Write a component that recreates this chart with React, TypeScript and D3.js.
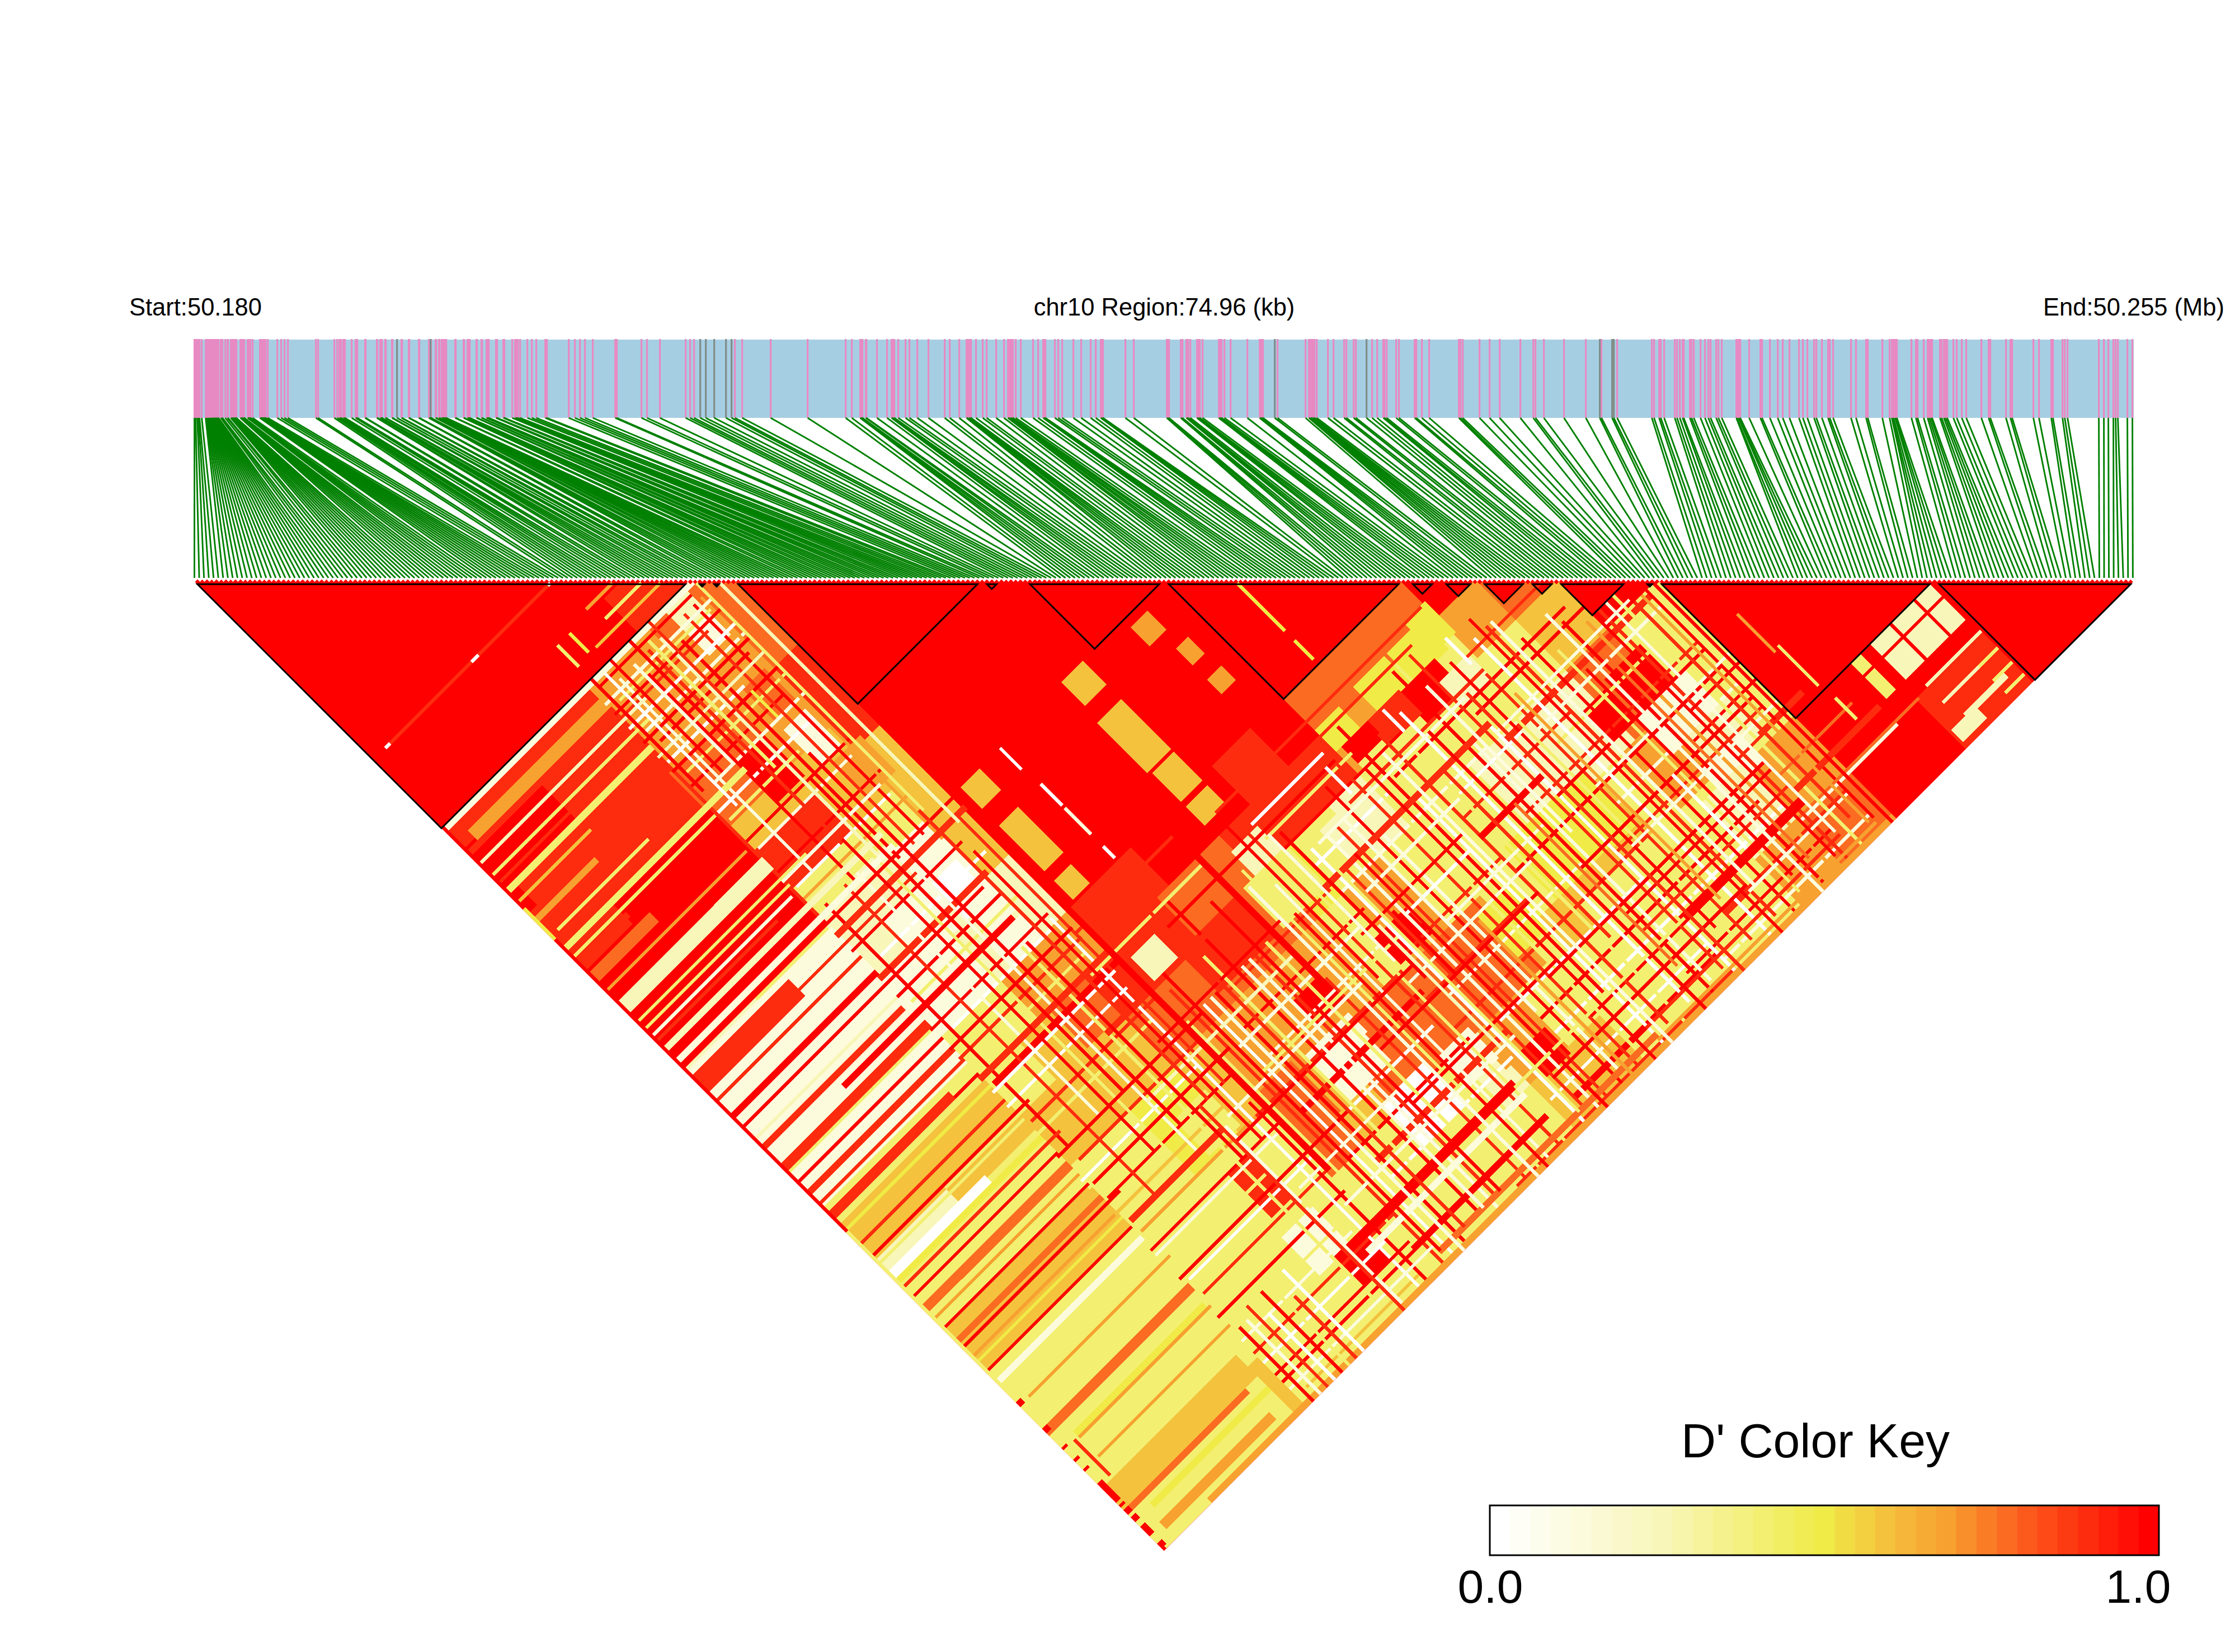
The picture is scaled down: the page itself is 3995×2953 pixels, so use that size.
import React from 'react';
import * as d3 from 'd3';

// positions of the SNPs along the coloured track (0 = region start)
const trackSpan = 3467;
const snpPos = [
  0, 2, 5, 7, 9, 13, 20, 21, 22, 23, 24, 25, 26, 27, 28, 29, 30, 31, 32, 33, 34, 35, 36, 37, 38, 39, 40, 41, 42, 43,
  47, 49, 50, 55, 59, 60, 65, 66, 67, 68, 69, 70, 71, 72, 73, 74, 75, 82, 83, 84, 85, 86, 87, 88, 89, 95, 96, 97, 98, 100,
  104, 117, 118, 119, 120, 121, 122, 123, 124, 125, 126, 127, 131, 148, 155, 161, 167, 217, 221, 250, 255, 259, 261, 262,
  266, 268, 269, 281, 288, 290, 291, 305, 306, 326, 327, 332, 333, 334, 335, 341, 342, 353, 354, 362, 370, 371, 383, 384,
  401, 402, 419, 420, 422, 423, 431, 432, 437, 438, 442, 443, 444, 445, 446, 447, 449, 450, 466, 467, 481, 482, 488, 489,
  491, 492, 504, 505, 513, 514, 522, 523, 525, 526, 539, 540, 541, 552, 553, 554, 568, 573, 574, 576, 578, 582, 595, 603,
  611, 627, 630, 669, 680, 689, 698, 712, 752, 755, 799, 809, 832, 878, 886, 893, 904, 914, 929, 950, 960, 966, 979, 1030,
  1096, 1164, 1175, 1190, 1191, 1193, 1194, 1200, 1201, 1220, 1238, 1246, 1247, 1250, 1251, 1258, 1271, 1278, 1292, 1312,
  1341, 1350, 1367, 1380, 1381, 1384, 1385, 1387, 1388, 1397, 1409, 1416, 1433, 1447, 1454, 1455, 1458, 1459, 1462, 1463,
  1468, 1477, 1499, 1508, 1517, 1518, 1520, 1521, 1538, 1544, 1551, 1571, 1585, 1602, 1611, 1620, 1621, 1623, 1624, 1664,
  1679, 1738, 1739, 1741, 1742, 1763, 1764, 1766, 1773, 1774, 1776, 1780, 1792, 1793, 1795, 1797, 1802, 1831, 1832, 1834,
  1836, 1841, 1852, 1882, 1904, 1905, 1907, 1908, 1910, 1931, 1936, 1986, 1992, 1993, 1995, 1996, 1998, 2000, 2002, 2006,
  2026, 2036, 2055, 2059, 2072, 2076, 2095, 2105, 2114, 2125, 2127, 2131, 2148, 2153, 2181, 2184, 2194, 2207, 2260, 2263,
  2267, 2297, 2315, 2333, 2370, 2393, 2397, 2412, 2448, 2487, 2512, 2515, 2534, 2537, 2543, 2605, 2609, 2618, 2621, 2627,
  2646, 2650, 2655, 2660, 2662, 2673, 2676, 2680, 2692, 2700, 2706, 2710, 2720, 2724, 2730, 2756, 2757, 2760, 2761, 2763,
  2779, 2799, 2802, 2816, 2830, 2839, 2851, 2868, 2875, 2883, 2895, 2899, 2909, 2920, 2923, 2929, 2961, 2970, 2988, 2991,
  3017, 3030, 3034, 3035, 3037, 3040, 3041, 3043, 3069, 3077, 3080, 3091, 3098, 3101, 3104, 3106, 3120, 3123, 3127, 3130,
  3133, 3144, 3150, 3159, 3167, 3194, 3207, 3210, 3238, 3246, 3249, 3287, 3297, 3319, 3322, 3339, 3343, 3348, 3404, 3413,
  3421, 3430, 3434, 3438, 3455, 3464,
];
const greyPos = [362, 422, 904, 914, 929, 950, 960, 1931, 2095, 2512, 2534, 2537];

// LD blocks as first and last SNP
const ldBlocks = [
  [0, 103], [105, 107], [108, 110], [113, 164], [165, 168], [174, 202], [203, 252], [254, 259],
  [261, 267], [269, 278], [279, 284], [285, 299], [303, 305], [306, 363], [364, 405],
];

// D', written as one digit per cell
const codeValues = [0, 0.13, 0.25, 0.42, 0.5, 0.6, 0.69, 0.78, 0.9, 1];
const zoneEdges = [0, 30, 60, 85, 103, 113, 140, 164, 174, 190, 203, 228, 252, 268, 285, 306, 335, 363, 385, 406];
const zoneRows = [
  '9999898999212525353',
  '999887898313355335',
  '99667583213353333',
  '9766553126754333',
  '778855526875333',
  '99999998876533',
  '9999999876733',
  '999999843723',
  '99998836765',
  '9999823635',
  '997633333',
  '97332553',
  '9632333',
  '757326',
  '93367',
  '9999',
  '998',
  '99',
  '9',
];

// [iFrom, iTo, jFrom, jTo, code]
const patches = [
  [4, 58, 130, 153, 8], [20, 60, 155, 176, 9], [0, 60, 182, 204, 9], [0, 60, 206, 262, 1], [0, 60, 263, 269, 3],
  [0, 60, 270, 282, 5], [0, 60, 291, 312, 3], [0, 60, 315, 330, 5], [0, 60, 332, 379, 3], [0, 55, 380, 388, 5],
  [0, 55, 389, 405, 3], [82, 100, 90, 103, 8],
  [92, 100, 106, 114, 2], [92, 100, 115, 123, 1], [92, 100, 138, 150, 7], [76, 86, 152, 168, 9], [92, 100, 155, 170, 1],
  [96, 106, 172, 186, 6], [76, 88, 200, 215, 2], [90, 100, 203, 212, 1], [72, 86, 216, 232, 1], [90, 100, 218, 232, 0],
  [93, 103, 228, 240, 1], [90, 103, 243, 252, 1], [76, 88, 270, 285, 5], [92, 104, 318, 332, 3], [92, 100, 340, 358, 8],
  [90, 102, 365, 380, 1], [96, 108, 380, 392, 9],
  [117, 124, 204, 212, 5], [117, 124, 220, 228, 5], [117, 124, 229, 238, 5], [117, 123, 243, 250, 5],
  [160, 168, 203, 212, 5], [159, 168, 219, 230, 5], [159, 168, 229, 239, 5], [160, 168, 241, 252, 5], [160, 168, 255, 262, 5],
  [186, 192, 206, 213, 6], [191, 195, 220, 226, 6], [191, 196, 233, 238, 6],
  [135, 160, 268, 292, 7], [128, 150, 284, 300, 8], [117, 126, 275, 285, 2], [160, 170, 274, 284, 2], [155, 172, 284, 300, 3],
  [183, 195, 288, 300, 2], [205, 218, 281, 292, 3], [203, 212, 266, 274, 4], [234, 247, 265, 276, 4], [220, 232, 265, 276, 4],
  [244, 252, 262, 274, 4], [228, 242, 276, 288, 9], [216, 228, 275, 284, 8], [205, 215, 275, 281, 9], [238, 250, 282, 292, 2],
  [141, 152, 318, 328, 9], [133, 150, 332, 350, 1], [113, 128, 330, 350, 7], [113, 126, 348, 362, 7], [150, 168, 340, 360, 7],
  [138, 155, 358, 375, 0], [165, 200, 335, 362, 7], [172, 184, 322, 332, 9], [172, 186, 365, 376, 6], [160, 172, 360, 372, 1],
  [178, 188, 376, 386, 9],
  [218, 250, 330, 352, 4], [198, 212, 338, 355, 4], [210, 240, 352, 365, 5], [222, 262, 358, 388, 3], [262, 285, 335, 358, 6],
  [272, 292, 330, 345, 1], [278, 296, 345, 360, 2], [275, 290, 355, 365, 1], [268, 285, 362, 378, 2],
  [274, 288, 316, 330, 9], [262, 272, 318, 330, 9],
  [337, 344, 364, 368, 2], [346, 354, 364, 368, 2], [356, 361, 364, 368, 2], [337, 344, 370, 378, 2], [346, 354, 370, 378, 2],
  [356, 361, 370, 378, 2], [329, 332, 370, 378, 3], [329, 332, 364, 368, 3], [336, 345, 399, 403, 2],
];

// [j, thickness, iFrom, iTo, code]: thinner weave seen across the lower half, painted first
const weaveJ = [
  [107, 1, 62, 100, 9], [114, 1, 64, 102, 3], [118, 1, 60, 96, 8], [126, 1, 62, 103, 1], [131, 1, 64, 100, 9], [137, 1, 60, 92, 0],
  [143, 1, 62, 103, 3], [147, 1, 60, 98, 9], [151, 1, 66, 103, 1], [158, 1, 60, 100, 0], [162, 1, 62, 90, 3], [170, 1, 60, 104, 9],
  [174, 1, 62, 100, 1], [183, 1, 60, 103, 9], [190, 1, 62, 100, 0], [194, 1, 60, 104, 6], [199, 1, 62, 100, 3],
  [114, 2, 0, 60, 8], [127, 1, 0, 50, 8], [135, 1, 0, 30, 5], [142, 2, 0, 25, 6], [149, 1, 3, 40, 3], [158, 1, 0, 60, 3],
  [160, 2, 0, 20, 8], [172, 1, 0, 58, 6], [191, 1, 0, 58, 1], [193, 1, 0, 50, 8],
  [212, 1, 40, 90, 8], [218, 1, 0, 60, 8], [224, 2, 0, 60, 9], [234, 1, 0, 60, 2], [237, 2, 0, 58, 8], [248, 1, 0, 60, 3],
  [256, 2, 0, 60, 8], [259, 1, 0, 60, 1], [267, 1, 0, 60, 9], [272, 1, 0, 60, 4], [278, 1, 0, 60, 8], [286, 1, 0, 60, 3],
  [293, 2, 0, 60, 4], [300, 1, 0, 60, 9], [309, 1, 0, 60, 6], [313, 1, 0, 60, 9], [318, 2, 0, 60, 7], [325, 1, 0, 60, 6], [327, 1, 0, 60, 4],
  [215, 1, 60, 105, 9], [222, 1, 64, 108, 0], [226, 2, 60, 104, 8], [234, 1, 60, 102, 9], [238, 1, 62, 106, 3], [248, 1, 60, 108, 9],
  [252, 1, 64, 106, 0], [260, 1, 60, 110, 8], [264, 1, 62, 108, 3], [272, 2, 62, 112, 9], [280, 1, 60, 110, 0], [288, 1, 62, 112, 8],
  [292, 1, 60, 108, 3], [306, 1, 64, 115, 8], [311, 1, 60, 108, 0], [320, 1, 62, 112, 9], [325, 1, 60, 115, 5],
  [334, 1, 62, 112, 6], [340, 1, 60, 115, 9], [348, 1, 60, 112, 3], [354, 1, 62, 112, 0], [360, 1, 62, 114, 8], [368, 1, 60, 112, 9],
  [374, 1, 60, 110, 3], [383, 1, 60, 118, 8], [387, 1, 60, 110, 0], [395, 1, 60, 115, 9], [401, 1, 64, 110, 5],
  [262, 1, 165, 203, 8], [268, 1, 175, 240, 8], [272, 1, 170, 200, 0], [278, 1, 170, 205, 3], [284, 1, 172, 220, 9], [288, 1, 195, 250, 8],
  [292, 1, 210, 280, 9], [294, 1, 175, 205, 0], [302, 1, 130, 172, 8], [305, 1, 175, 235, 1], [307, 2, 240, 300, 8], [313, 1, 125, 175, 9],
  [315, 1, 215, 260, 8], [319, 1, 250, 300, 3], [324, 1, 125, 170, 1], [327, 1, 230, 300, 8], [331, 1, 175, 215, 8], [334, 2, 110, 170, 8],
  [337, 1, 215, 300, 9], [342, 2, 120, 170, 9], [344, 1, 250, 300, 1], [347, 1, 280, 305, 9], [349, 1, 175, 230, 1], [352, 1, 130, 165, 0],
  [354, 1, 240, 300, 8], [357, 1, 170, 250, 8], [359, 2, 295, 312, 8], [362, 1, 120, 170, 9], [365, 1, 180, 240, 0], [368, 2, 125, 180, 8],
  [373, 1, 190, 280, 9], [375, 1, 125, 175, 0], [379, 1, 190, 285, 0], [383, 1, 200, 290, 9], [386, 1, 285, 325, 1], [389, 2, 250, 300, 8],
  [392, 1, 175, 240, 0], [394, 1, 230, 290, 9], [396, 2, 180, 240, 9], [399, 1, 240, 300, 1], [401, 1, 125, 200, 3], [403, 1, 150, 240, 8],
];

// [i, thickness, jFrom, jTo, code]: same weave in the other direction
const weaveI = [
  [60, 1, 110, 200, 8], [64, 1, 200, 300, 9], [68, 1, 110, 190, 1], [72, 1, 200, 330, 8], [75, 1, 115, 200, 9], [77, 1, 200, 300, 1],
  [80, 1, 110, 190, 8], [84, 1, 200, 320, 3], [85, 1, 110, 200, 2], [89, 1, 115, 205, 9], [90, 1, 205, 330, 1], [95, 1, 110, 205, 8],
  [96, 1, 250, 400, 3], [99, 1, 110, 205, 9], [102, 1, 110, 210, 6], [101, 1, 330, 405, 1],
  [108, 1, 250, 405, 0], [110, 1, 210, 320, 8], [111, 1, 330, 405, 9], [115, 1, 300, 400, 3], [118, 1, 290, 405, 8], [122, 1, 300, 405, 0],
  [127, 1, 300, 405, 9], [132, 1, 290, 405, 3], [136, 1, 270, 400, 9], [141, 1, 300, 405, 1], [143, 1, 290, 400, 8], [148, 1, 300, 405, 3],
  [153, 1, 320, 405, 8], [158, 1, 280, 405, 3], [162, 1, 290, 405, 1], [167, 1, 270, 405, 8], [169, 1, 300, 405, 3], [177, 1, 290, 405, 0],
  [180, 1, 300, 400, 8], [183, 1, 290, 405, 1], [187, 1, 290, 405, 8], [193, 1, 280, 405, 9], [195, 1, 300, 400, 1], [200, 1, 270, 405, 8],
  [203, 1, 290, 400, 3], [208, 1, 270, 380, 9], [210, 1, 300, 405, 0], [215, 1, 280, 400, 8], [219, 1, 290, 405, 3], [224, 1, 280, 400, 0],
  [231, 1, 270, 405, 9], [233, 1, 300, 400, 1], [238, 1, 270, 400, 8], [240, 1, 300, 405, 0], [245, 1, 280, 390, 9], [247, 1, 300, 405, 3],
  [250, 1, 290, 400, 8], [255, 1, 280, 405, 0], [260, 1, 280, 400, 8], [265, 1, 290, 405, 9], [270, 1, 300, 400, 3], [277, 1, 295, 405, 9],
  [282, 1, 300, 405, 6], [287, 1, 300, 405, 8], [293, 1, 300, 405, 3], [301, 1, 306, 400, 9],
];

// stronger stripes measured on the crops, painted on top of the weave
const jStripes = [
  [75, 1, 5, 73, 8], [75, 1, 5, 6, 0], [75, 1, 41, 43, 0], [75, 1, 73, 73, 0], [88, 1, 76, 92, 6], [94, 1, 78, 92, 3], [98, 1, 70, 96, 5],
  [104, 2, 0, 103, 1], [110, 4, 5, 65, 6], [112, 1, 60, 103, 1], [116, 1, 60, 103, 9], [119, 1, 0, 70, 2], [122, 1, 60, 103, 0],
  [124, 1, 0, 65, 3], [128, 1, 60, 103, 9], [130, 2, 0, 60, 3], [134, 1, 60, 103, 2], [140, 1, 60, 103, 9],
  [154, 2, 0, 75, 3], [165, 4, 0, 25, 7], [177, 5, 0, 60, 2], [185, 1, 0, 70, 3], [186, 1, 60, 100, 1], [188, 1, 0, 60, 3],
  [196, 2, 0, 90, 2], [201, 2, 0, 90, 1], [204, 1, 60, 113, 9], [208, 7, 0, 40, 8], [208, 2, 60, 113, 8],
  [229, 1, 0, 100, 9], [241, 2, 30, 100, 9], [245, 3, 0, 60, 8], [252, 1, 0, 60, 9], [256, 1, 60, 110, 9], [258, 1, 110, 150, 8],
  [261, 1, 0, 60, 8], [262, 1, 204, 250, 8], [265, 3, 0, 50, 8], [268, 2, 60, 112, 8], [270, 1, 105, 150, 3], [274, 1, 60, 110, 0],
  [276, 1, 130, 200, 9], [282, 1, 250, 285, 8], [283, 1, 0, 65, 9], [285, 2, 96, 145, 8], [290, 3, 0, 40, 0], [290, 1, 180, 240, 1],
  [296, 1, 0, 65, 8], [296, 1, 240, 285, 9], [298, 1, 105, 155, 9], [300, 2, 172, 240, 8], [301, 1, 60, 120, 9], [304, 3, 0, 60, 7],
  [304, 1, 240, 295, 1], [308, 1, 90, 150, 2], [310, 1, 180, 218, 1], [309, 1, 220, 245, 0], [312, 1, 250, 300, 1], [314, 1, 62, 118, 9],
  [316, 1, 120, 170, 1], [318, 1, 170, 212, 9], [321, 1, 0, 65, 9], [322, 2, 215, 240, 9], [323, 1, 184, 210, 0], [326, 1, 121, 176, 3],
  [328, 1, 104, 160, 1], [329, 2, 62, 100, 8], [330, 1, 240, 300, 9], [331, 1, 0, 60, 9], [333, 1, 190, 230, 1], [335, 2, 0, 60, 1],
  [335, 1, 100, 175, 9], [336, 1, 250, 305, 1], [338, 1, 170, 220, 1], [340, 1, 285, 305, 9], [342, 1, 60, 110, 1], [345, 1, 4, 62, 6],
  [345, 2, 170, 212, 8], [346, 1, 150, 215, 9], [350, 1, 230, 300, 9], [352, 1, 60, 130, 9], [355, 3, 0, 60, 7], [356, 1, 245, 305, 1],
  [358, 1, 104, 145, 1], [360, 1, 285, 305, 8], [362, 3, 6, 60, 4], [362, 2, 60, 104, 3], [364, 1, 6, 60, 6], [364, 1, 145, 205, 9],
  [366, 1, 200, 290, 9], [369, 1, 229, 290, 9], [371, 1, 110, 180, 1], [372, 1, 6, 60, 6], [372, 1, 290, 320, 7], [376, 1, 229, 290, 8],
  [378, 1, 60, 105, 1], [378, 2, 290, 325, 8], [380, 3, 105, 170, 9], [381, 3, 240, 290, 9], [382, 1, 170, 240, 3], [384, 1, 340, 356, 2],
  [384, 1, 355, 362, 2], [385, 1, 300, 335, 7], [385, 2, 105, 170, 1], [388, 1, 180, 260, 9], [389, 2, 0, 50, 7], [390, 1, 260, 300, 1],
  [391, 1, 340, 358, 2], [391, 1, 355, 362, 3], [392, 1, 60, 115, 9], [393, 2, 7, 55, 4], [394, 2, 115, 170, 9], [397, 1, 210, 290, 8],
  [398, 2, 342, 358, 2], [397, 1, 355, 362, 3], [398, 1, 60, 120, 1], [399, 3, 5, 50, 6], [400, 2, 120, 210, 7], [402, 1, 210, 300, 6],
  [402, 1, 355, 362, 3], [404, 2, 20, 305, 6],
];

const iStripes = [
  [0, 1, 104, 137, 9], [0, 1, 138, 150, 4], [0, 1, 151, 272, 9], [0, 1, 273, 343, 3],
  [0, 2, 344, 345, 9], [0, 2, 355, 356, 9], [0, 2, 363, 363, 9], [0, 2, 368, 368, 9], [0, 2, 372, 372, 9], [0, 2, 378, 385, 9],
  [0, 2, 387, 387, 9], [0, 2, 389, 390, 9], [0, 2, 392, 393, 9], [0, 2, 396, 399, 9], [0, 2, 403, 404, 9], [0, 1, 405, 405, 9],
  [4, 1, 364, 378, 8],
  [62, 1, 90, 98, 3], [67, 1, 90, 97, 4], [62, 1, 104, 150, 9], [66, 1, 106, 160, 0], [70, 1, 104, 150, 9], [74, 1, 110, 150, 1],
  [78, 1, 104, 160, 9], [82, 1, 108, 160, 3], [86, 1, 104, 150, 8], [93, 1, 140, 150, 4], [104, 1, 106, 200, 3], [109, 1, 111, 210, 2],
  [87, 1, 170, 300, 9], [81, 1, 190, 320, 9], [92, 1, 165, 320, 9], [98, 1, 250, 340, 9], [100, 1, 320, 405, 8], [103, 1, 200, 320, 8],
  [106, 1, 220, 340, 9], [113, 2, 250, 360, 9], [120, 1, 285, 400, 9], [125, 1, 300, 405, 1], [130, 1, 260, 400, 8],
  [133, 1, 204, 212, 0], [134, 1, 220, 228, 0], [134, 1, 230, 240, 1], [134, 1, 246, 250, 0], [138, 1, 300, 400, 1], [145, 1, 280, 400, 9],
  [151, 2, 260, 320, 9], [156, 1, 285, 405, 1], [160, 1, 300, 405, 9], [164, 1, 265, 330, 9], [171, 1, 278, 330, 1], [174, 1, 280, 340, 9],
  [175, 1, 320, 370, 2], [178, 1, 300, 400, 3], [181, 1, 320, 345, 9], [185, 1, 300, 405, 9], [190, 1, 290, 370, 1], [197, 1, 276, 286, 0],
  [197, 1, 340, 405, 6], [205, 1, 285, 405, 9], [212, 1, 285, 405, 1], [217, 1, 219, 228, 4], [217, 1, 229, 238, 4], [217, 1, 243, 250, 4],
  [221, 1, 276, 284, 0], [221, 1, 300, 370, 8], [226, 1, 290, 405, 9], [229, 1, 323, 390, 7], [235, 1, 280, 340, 1], [242, 1, 290, 405, 8],
  [249, 1, 274, 284, 0], [252, 1, 300, 385, 6], [258, 1, 275, 405, 9], [262, 1, 280, 390, 1], [268, 1, 350, 380, 0], [272, 1, 310, 395, 9],
  [275, 1, 290, 405, 1], [279, 1, 310, 395, 7], [285, 1, 300, 400, 9], [290, 1, 300, 395, 1], [296, 1, 306, 395, 8], [299, 1, 306, 400, 6],
  [304, 1, 306, 405, 9], [315, 1, 330, 345, 6], [317, 1, 345, 355, 3], [317, 1, 355, 361, 3], [318, 1, 368, 376, 3],
  [62, 1, 375, 405, 9], [65, 1, 375, 405, 1], [68, 1, 372, 405, 8], [71, 1, 378, 405, 0], [74, 1, 372, 405, 9], [77, 1, 372, 405, 3],
  [80, 1, 380, 405, 8], [83, 1, 372, 405, 0],
];

const keySteps = d3.range(33).map(d => d / 32);
const rampStops = [0, 0.25, 0.5, 0.6, 0.69, 0.81, 1];
const rampColors = ['#ffffff', '#f8f6b9', '#f0eb46', '#f4bf3c', '#f7a030', '#fc5a1c', '#ff0000'];

const ramp = d3.scaleLinear<string>().domain(rampStops).range(rampColors).interpolate(d3.interpolateRgb);
const fillFor = (v: number) => ramp(Math.round(v * 32) / 32);

const pitch = 8.554;
const heatLeft = 348.5;
const heatTop = 1040;
const lastSnp = 405;

const trackX = d3.scaleLinear().domain([0, trackSpan]).range([346, 346 + trackSpan]);
const snpX = d3.scaleLinear().domain([0, lastSnp]).range([heatLeft, heatLeft + lastSnp * pitch]);
const lagY = d3.scaleLinear().domain([1, lastSnp]).range([heatTop, heatTop + ((lastSnp - 1) / 2) * pitch]);
const keyX = d3.scaleBand<number>().domain(keySteps).range([2663, 3859]);

// one patch of the i/j grid as a diamond-shaped path
function cellPath(i0: number, i1: number, j0: number, j1: number) {
  const p = d3.path();
  const pt = (a: number, b: number): [number, number] => [snpX((a + b) / 2), lagY(b - a)];
  const corners = [pt(i0 - 0.5, j0 - 0.5), pt(i1 + 0.5, j0 - 0.5), pt(i1 + 0.5, j1 + 0.5), pt(i0 - 0.5, j1 + 0.5)];
  p.moveTo(...corners[0]);
  corners.slice(1).forEach(c => p.lineTo(...c));
  p.closePath();
  return p.toString();
}

function blockPath(first: number, last: number) {
  const p = d3.path();
  p.moveTo(snpX(first + 0.5), lagY(2));
  p.lineTo(snpX(last - 0.5), lagY(2));
  p.lineTo(snpX((first + last) / 2), lagY(last - first + 1));
  p.closePath();
  return p.toString();
}

export default function App() {
  const layers: { d: string; code: number }[] = [];
  zoneRows.forEach((row, r) => {
    row.split('').forEach((ch, k) => {
      const c = r + k;
      layers.push({ d: cellPath(zoneEdges[r], zoneEdges[r + 1] - 1, zoneEdges[c], zoneEdges[c + 1] - 1), code: +ch });
    });
  });
  // inside an LD block everything is strong, only single stripes break it
  ldBlocks.forEach(([a, b]) => layers.push({ d: cellPath(a, b, a, b), code: 9 }));
  patches.forEach(([a, b, c, e, code]) => layers.push({ d: cellPath(a, b, c, e), code }));
  weaveJ.forEach(([j, w, a, b, code]) => layers.push({ d: cellPath(a, b, j, j + w - 1), code }));
  weaveI.forEach(([i, w, c, e, code]) => layers.push({ d: cellPath(i, i + w - 1, c, e), code }));
  jStripes.forEach(([j, w, a, b, code]) => layers.push({ d: cellPath(a, b, j, j + w - 1), code }));
  iStripes.forEach(([i, w, c, e, code]) => layers.push({ d: cellPath(i, i + w - 1, c, e), code }));

  const links = d3.line();
  const font = 'Liberation Sans, Arial, sans-serif';
  const triangle = [
    [snpX(0), lagY(1)],
    [snpX(lastSnp), lagY(1)],
    [snpX(lastSnp / 2), lagY(lastSnp) + pitch / 2],
  ];

  return (
    <svg width={3995} height={2953} style={{ position: 'absolute', left: 0, top: 0, background: '#fff' }} fontFamily={font}>
      <defs>
        <clipPath id="heat-clip">
          <polygon points={triangle.map(p => p.join(',')).join(' ')} />
        </clipPath>
      </defs>

      <text x={231} y={564} fontSize={43.5}>Start:50.180</text>
      <text x={2081} y={564} fontSize={43.5} textAnchor="middle">chr10 Region:74.96 (kb)</text>
      <text x={3652} y={564} fontSize={43.5}>End:50.255 (Mb)</text>

      <rect x={trackX(0)} y={607} width={trackSpan + 1} height={140} fill="#a6cee3" />
      {snpPos.map((d, i) => (
        <rect key={i} x={trackX(d)} y={606} width={3.2} height={141} fill="#e78ac3" />
      ))}
      {greyPos.map((d, i) => (
        <rect key={i} x={trackX(d)} y={606} width={3.2} height={141} fill="#7f8f8a" />
      ))}

      <g stroke="#008000" strokeWidth={2.9} fill="none">
        {snpPos.map((d, i) => (
          <path key={i} d={links([[trackX(d) + 1.6, 747], [snpX(i) - 1 + (i / lastSnp) * 0.5, 1033]]) as string} />
        ))}
      </g>

      <polygon points={triangle.map(p => p.join(',')).join(' ')} fill="#ff0000" />
      <g clipPath="url(#heat-clip)" shapeRendering="crispEdges">
        {layers.map((l, i) => (
          <path key={i} d={l.d} fill={fillFor(codeValues[l.code])} />
        ))}
      </g>
      <g fill="#ff0000" shapeRendering="crispEdges">
        {d3.range(lastSnp).map(i => (
          <path key={i} d={cellPath(i, i, i + 1, i + 1)} />
        ))}
      </g>
      <g fill="none" stroke="#000" strokeWidth={3}>
        {ldBlocks.map(([a, b], i) => (
          <path key={i} d={blockPath(a, b)} />
        ))}
      </g>

      <text x={3245} y={2605} fontSize={86} textAnchor="middle">D' Color Key</text>
      {keySteps.map(s => (
        <rect key={s} x={keyX(s)} y={2691} width={keyX.bandwidth() + 0.5} height={89} fill={fillFor(s)} />
      ))}
      <rect x={2663} y={2691} width={1196} height={89} fill="none" stroke="#000" strokeWidth={3} />
      <text x={2664} y={2865} fontSize={84} textAnchor="middle">0.0</text>
      <text x={3822} y={2865} fontSize={84} textAnchor="middle">1.0</text>
    </svg>
  );
}
